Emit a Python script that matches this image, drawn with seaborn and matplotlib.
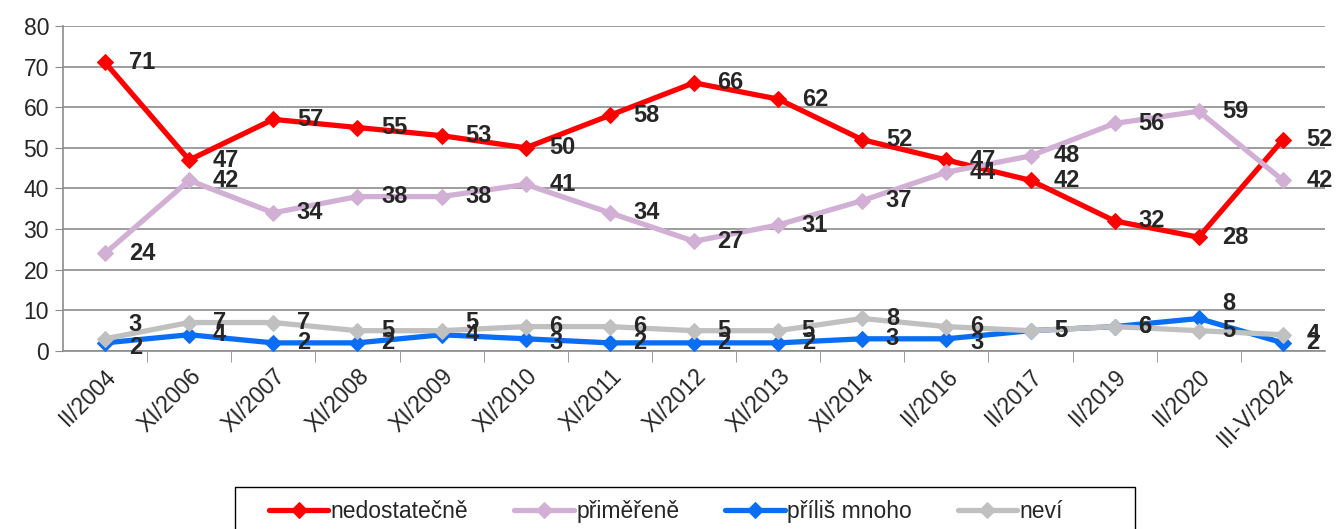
import matplotlib
matplotlib.use('Agg')
import matplotlib.pyplot as plt
import matplotlib.patches as mpatches
import seaborn as sns
import pandas as pd
import numpy as np

obdobi = ['II/2004', 'XI/2006', 'XI/2007', 'XI/2008', 'XI/2009', 'XI/2010', 'XI/2011',
          'XI/2012', 'XI/2013', 'XI/2014', 'II/2016', 'II/2017', 'II/2019', 'II/2020',
          'III-V/2024']
nedostatecne = [71, 47, 57, 55, 53, 50, 58, 66, 62, 52, 47, 42, 32, 28, 52]
primerene = [24, 42, 34, 38, 38, 41, 34, 27, 31, 37, 44, 48, 56, 59, 42]
prilis_mnoho = [2, 4, 2, 2, 4, 3, 2, 2, 2, 3, 3, 5, 6, 8, 2]
nevi = [3, 7, 7, 5, 5, 6, 6, 5, 5, 8, 6, 5, 6, 5, 4]

series = ['nedostatečně', 'přiměřeně', 'příliš mnoho', 'neví']
colors = ['#FF0000', '#D2AFD4', '#0A6EF5', '#C0C0C0']

# labels that were nudged in the original (series, index) -> vertical offset in points
nudge = {('neví', 0): 10, ('neví', 4): 6, ('příliš mnoho', 13): 11,
         ('příliš mnoho', 0): -3, ('příliš mnoho', 5): -3, ('příliš mnoho', 10): -3}

df = pd.concat([
    pd.DataFrame({'x': np.arange(len(obdobi)), 'hodnota': vals, 'odpoved': name})
    for name, vals in zip(series, [nedostatecne, primerene, prilis_mnoho, nevi])
])

sns.set_style('white')
plt.rcParams['font.family'] = ['Liberation Sans', 'DejaVu Sans']

fig = plt.figure(figsize=(13.37, 5.29), dpi=100)
ax = fig.add_axes([0.0471, 0.3365, 0.9439, 0.6145])

for z, (name, col) in enumerate(zip(series, colors)):
    sub = df[df['odpoved'] == name]
    sns.lineplot(data=sub, x='x', y='hodnota', color=col, lw=3.8, marker='D',
                 markersize=8.5, markeredgecolor=col, ax=ax, label=name, zorder=3 + z * 0.1)
    for xi, yi in zip(sub['x'], sub['hodnota']):
        ax.annotate(str(yi), (xi, yi), xytext=(17, nudge.get((name, xi), 0)),
                    textcoords='offset points', ha='left', va='center',
                    fontsize=17, fontweight='bold', zorder=5)

ax.set_xlim(-0.5, len(obdobi) - 0.5)
ax.set_ylim(0, 80)
ax.set_yticks(range(0, 81, 10))
ax.tick_params(axis='y', labelsize=16.5, length=6, color='#8C8C8C', direction='out',
               left=True, pad=4)
ax.grid(axis='y', color='#8C8C8C', lw=1.2)
ax.set_axisbelow(True)

ax.set_xticks(range(len(obdobi)))
ax.set_xticklabels(obdobi, rotation=45, ha='right', rotation_mode='anchor', fontsize=16.5)
ax.tick_params(axis='x', which='major', length=0, pad=10)
ax.set_xticks(np.arange(0.5, len(obdobi) - 0.5, 1), minor=True)
ax.tick_params(axis='x', which='minor', length=8, color='#8C8C8C', bottom=True)

for s in ['top', 'right']:
    ax.spines[s].set_visible(False)
for s in ['left', 'bottom']:
    ax.spines[s].set_color('#8C8C8C')
    ax.spines[s].set_linewidth(1.2)

ax.set_xlabel('')
ax.set_ylabel('')

handles, labels = ax.get_legend_handles_labels()
order = [labels.index(s) for s in series]
leg = fig.legend([handles[i] for i in order], [labels[i] for i in order],
                 loc='upper center', bbox_to_anchor=(0.498, 0.0794), ncol=4,
                 fontsize=16.5, frameon=False,
                 handlelength=2.6, handletextpad=0.1, columnspacing=2.0,
                 borderpad=0.55, borderaxespad=0)
ax.get_legend().remove()

# legend frame is wider than its entries, as in the original
fig.patches.append(mpatches.Rectangle((0.1758, -0.05), 0.673, 0.1294, transform=fig.transFigure,
                                      fill=False, edgecolor='black', lw=1.0))

fig.savefig('out.png', dpi=100)
